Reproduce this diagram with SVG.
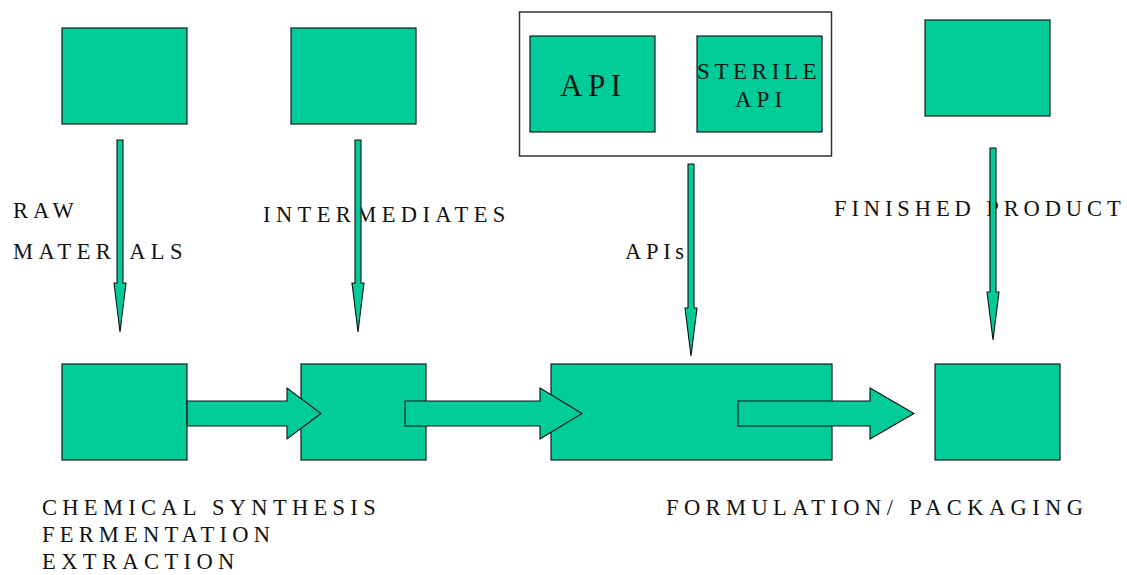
<svg xmlns="http://www.w3.org/2000/svg" width="1127" height="575" viewBox="0 0 1127 575">
  <style>
    .box { fill: #00CC99; stroke: #1a1a1a; stroke-width: 1.2; }
    .frame { fill: #ffffff; stroke: #333333; stroke-width: 1.5; }
    .arrow { fill: #00CC99; stroke: #111111; stroke-width: 1.1; stroke-linejoin: miter; }
    .lbl { font-family: "Liberation Serif", "Times New Roman", serif; font-size: 22.5px; letter-spacing: 5.3px; fill: #111111; }
    .big { font-size: 31px; letter-spacing: 5.5px; }
    .mid { font-size: 23px; letter-spacing: 4.3px; }
  </style>
  <rect width="1127" height="575" fill="#ffffff"/>

  <!-- top row -->
  <g id="raw-materials-box"><rect class="box" x="62" y="28" width="125" height="96"/></g>
  <g id="intermediates-box"><rect class="box" x="291" y="28" width="125" height="96"/></g>
  <g id="api-group">
    <rect class="frame" x="519.5" y="12" width="312" height="144"/>
    <g id="api-box">
      <rect class="box" x="530" y="36" width="125" height="96"/>
      <text class="lbl big" x="560" y="96">API</text>
    </g>
    <g id="sterile-api-box">
      <rect class="box" x="697" y="36" width="125" height="96"/>
      <text class="lbl mid" x="697" y="79" style="letter-spacing:4.6px">STERILE</text>
      <text class="lbl mid" x="735" y="107" style="letter-spacing:5px">API</text>
    </g>
  </g>
  <g id="finished-product-box"><rect class="box" x="925" y="20" width="125" height="96"/></g>

  <!-- bottom row -->
  <g id="synthesis-box"><rect class="box" x="62" y="364" width="125" height="96"/></g>
  <g id="intermediate-step-box"><rect class="box" x="301" y="364" width="125" height="96"/></g>
  <g id="formulation-box"><rect class="box" x="551" y="364" width="281" height="96"/></g>
  <g id="packaging-box"><rect class="box" x="935" y="364" width="125" height="96"/></g>

  <!-- labels -->
  <g id="labels">
    <text class="lbl" x="13" y="218" style="letter-spacing:5px">RAW</text>
    <text class="lbl" x="13" y="259" style="letter-spacing:5.4px">MATERIALS</text>
    <text class="lbl" x="263" y="222" style="letter-spacing:5.4px">INTERMEDIATES</text>
    <text class="lbl" x="625" y="259" style="letter-spacing:4.7px">APIs</text>
    <text class="lbl" x="834" y="216" style="letter-spacing:4.9px">FINISHED PRODUCT</text>
    <text class="lbl" x="42" y="515">CHEMICAL SYNTHESIS</text>
    <text class="lbl" x="42" y="542" style="letter-spacing:5.2px">FERMENTATION</text>
    <text class="lbl" x="42" y="569" style="letter-spacing:5.4px">EXTRACTION</text>
    <text class="lbl" x="666" y="515" style="letter-spacing:5.4px">FORMULATION/ PACKAGING</text>
  </g>

  <!-- connectors -->
  <g id="connectors">
    <polygon class="arrow" points="117,140 123,140 123,283 126,283 120,332 114,283 117,283"/>
    <polygon class="arrow" points="355,140 361,140 361,283 364,283 358,332 352,283 355,283"/>
    <polygon class="arrow" points="688,164 694,164 694,308 697,308 691,356 685,308 688,308"/>
    <polygon class="arrow" points="990,148 996,148 996,292 999,292 993,340 987,292 990,292"/>

    <polygon class="arrow" points="187,401 287,401 287,388 321,413.5 287,439 287,426 187,426"/>
    <polygon class="arrow" points="405,401 540,401 540,388 582,413.5 540,439 540,426 405,426"/>
    <polygon class="arrow" points="738,401 870,401 870,388 914,413.5 870,439 870,426 738,426"/>
  </g>
</svg>
